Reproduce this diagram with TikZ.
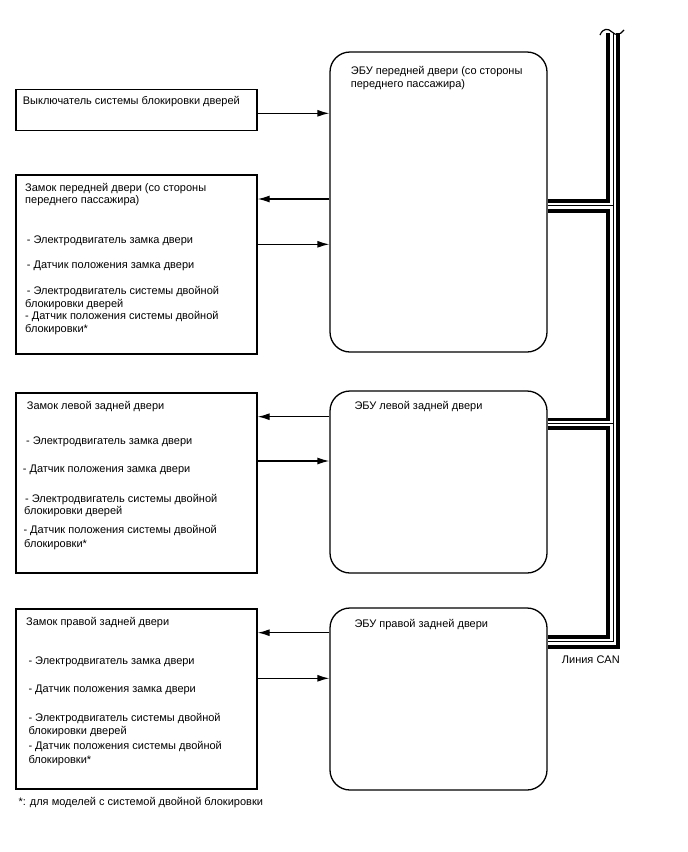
\documentclass[tikz,border=0pt]{standalone}
\usepackage{fontspec}
\setmainfont{Liberation Sans}
\usetikzlibrary{arrows.meta}

\begin{document}
\begin{tikzpicture}[x=1pt, y=-1pt, >={Latex[length=12pt,width=7pt]},
    font=\fontsize{11}{13}\selectfont,
    box/.style={draw, line width=1.3pt, minimum width=241pt, inner sep=0pt},
    ecu/.style={draw, line width=1.3pt, rounded corners=20pt, minimum width=217pt, inner sep=0pt},
    txt/.style={anchor=west, inner sep=0pt, text height=8pt, text depth=2pt},
    arr/.style={->, line width=1.3pt},
    wire/.style={line width=4pt},
    pair/.style={line width=1pt, preaction={draw=white, line width=5pt}}]
  \useasboundingbox (0,0) rectangle (688,852);

  % blocks
  \node[box, minimum height=41pt] (sw) at (136.5,110) {};
  \node[box, minimum height=179pt] (lkfr) at (136.5,264.5) {};
  \node[box, minimum height=180pt] (lkrl) at (136.5,483) {};
  \node[box, minimum height=180pt] (lkrr) at (136.5,699) {};
  \node[ecu, minimum height=300pt] (ecufr) at (438.5,202) {};
  \node[ecu, minimum height=182pt] (ecurl) at (438.5,482) {};
  \node[ecu, minimum height=182pt] (ecurr) at (438.5,699) {};

  % texts
  \node[txt] (swt) at (22.7,101.5) {Выключатель системы блокировки дверей};
  \node[txt] (ecufrt1) at (350.7,71) {ЭБУ передней двери (со стороны};
  \node[txt] (ecufrt2) at (350.7,84) {переднего пассажира)};
  \node[txt] (ecurlt) at (354.3,406.7) {ЭБУ левой задней двери};
  \node[txt] (ecurrt) at (354.3,624) {ЭБУ правой задней двери};
  \foreach \x/\y/\t [count=\i] in {
      25/188.3/Замок передней двери (со стороны,
      25/200.7/переднего пассажира),
      26.7/240/- Электродвигатель замка двери,
      26.7/265/- Датчик положения замка двери,
      26.7/291/- Электродвигатель системы двойной,
      25/304/блокировки дверей,
      25/316.7/- Датчик положения системы двойной,
      25/329.3/блокировки*,
      26.7/406.7/Замок левой задней двери,
      26/441.7/- Электродвигатель замка двери,
      22.7/469.3/- Датчик положения замка двери,
      25/499.3/- Электродвигатель системы двойной,
      24/511.7/блокировки дверей,
      23.3/530/- Датчик положения системы двойной,
      24/544/блокировки*,
      26/622.7/Замок правой задней двери,
      28.3/661.7/- Электродвигатель замка двери,
      28.3/689.3/- Датчик положения замка двери,
      28.3/718.3/- Электродвигатель системы двойной,
      28.3/731/блокировки дверей,
      28.3/746.7/- Датчик положения системы двойной,
      28.3/760/блокировки*}
    \node[txt] (l\i) at (\x,\y) {\t};
  \node[txt] (note) at (18.3,802.7) {*: для моделей с системой двойной блокировки};
  \node[txt] (can) at (561.7,660.7) {Линия CAN};

  % arrows
  \draw[arr] (sw.east |- 0,113.3) -- (ecufr.west |- 0,113.3);
  \draw[arr] (ecufr.west |- 0,199) -- (lkfr.east |- 0,199);
  \draw[arr] (lkfr.east |- 0,244.3) -- (ecufr.west |- 0,244.3);
  \draw[arr] (ecurl.west |- 0,416.7) -- (lkrl.east |- 0,416.7);
  \draw[arr] (lkrl.east |- 0,461) -- (ecurl.west |- 0,461);
  \draw[arr] (ecurr.west |- 0,632.7) -- (lkrr.east |- 0,632.7);
  \draw[arr] (lkrr.east |- 0,678.3) -- (ecurr.west |- 0,678.3);

  % CAN line
  \coordinate (top) at (608,33);
  \draw[wire] (ecufr.east |- 0,201) -- (608,201) -- (top);
  \draw[wire] (ecufr.east |- 0,210.5) -- (608,210.5) -- (608,420) -- (ecurl.east |- 0,420);
  \draw[wire] (ecurl.east |- 0,427.5) -- (608,427.5) -- (608,636.5) -- (ecurr.east |- 0,636.5);
  \draw[wire] (618,33) -- (618,646.5) -- (ecurr.east |- 0,646.5);
  \draw[pair] (613,33) -- (613,641) -- (ecurr.east |- 0,641);
  \draw[pair] (ecufr.east |- 0,205.5) -- (613,205.5);
  \draw[pair] (ecurl.east |- 0,423.8) -- (613,423.8);
  \draw[line width=1.2pt] (600,35) .. controls (603,28) and (608,28) .. (612,32)
    .. controls (616,36) and (620,35) .. (624,30);
\end{tikzpicture}
\end{document}
